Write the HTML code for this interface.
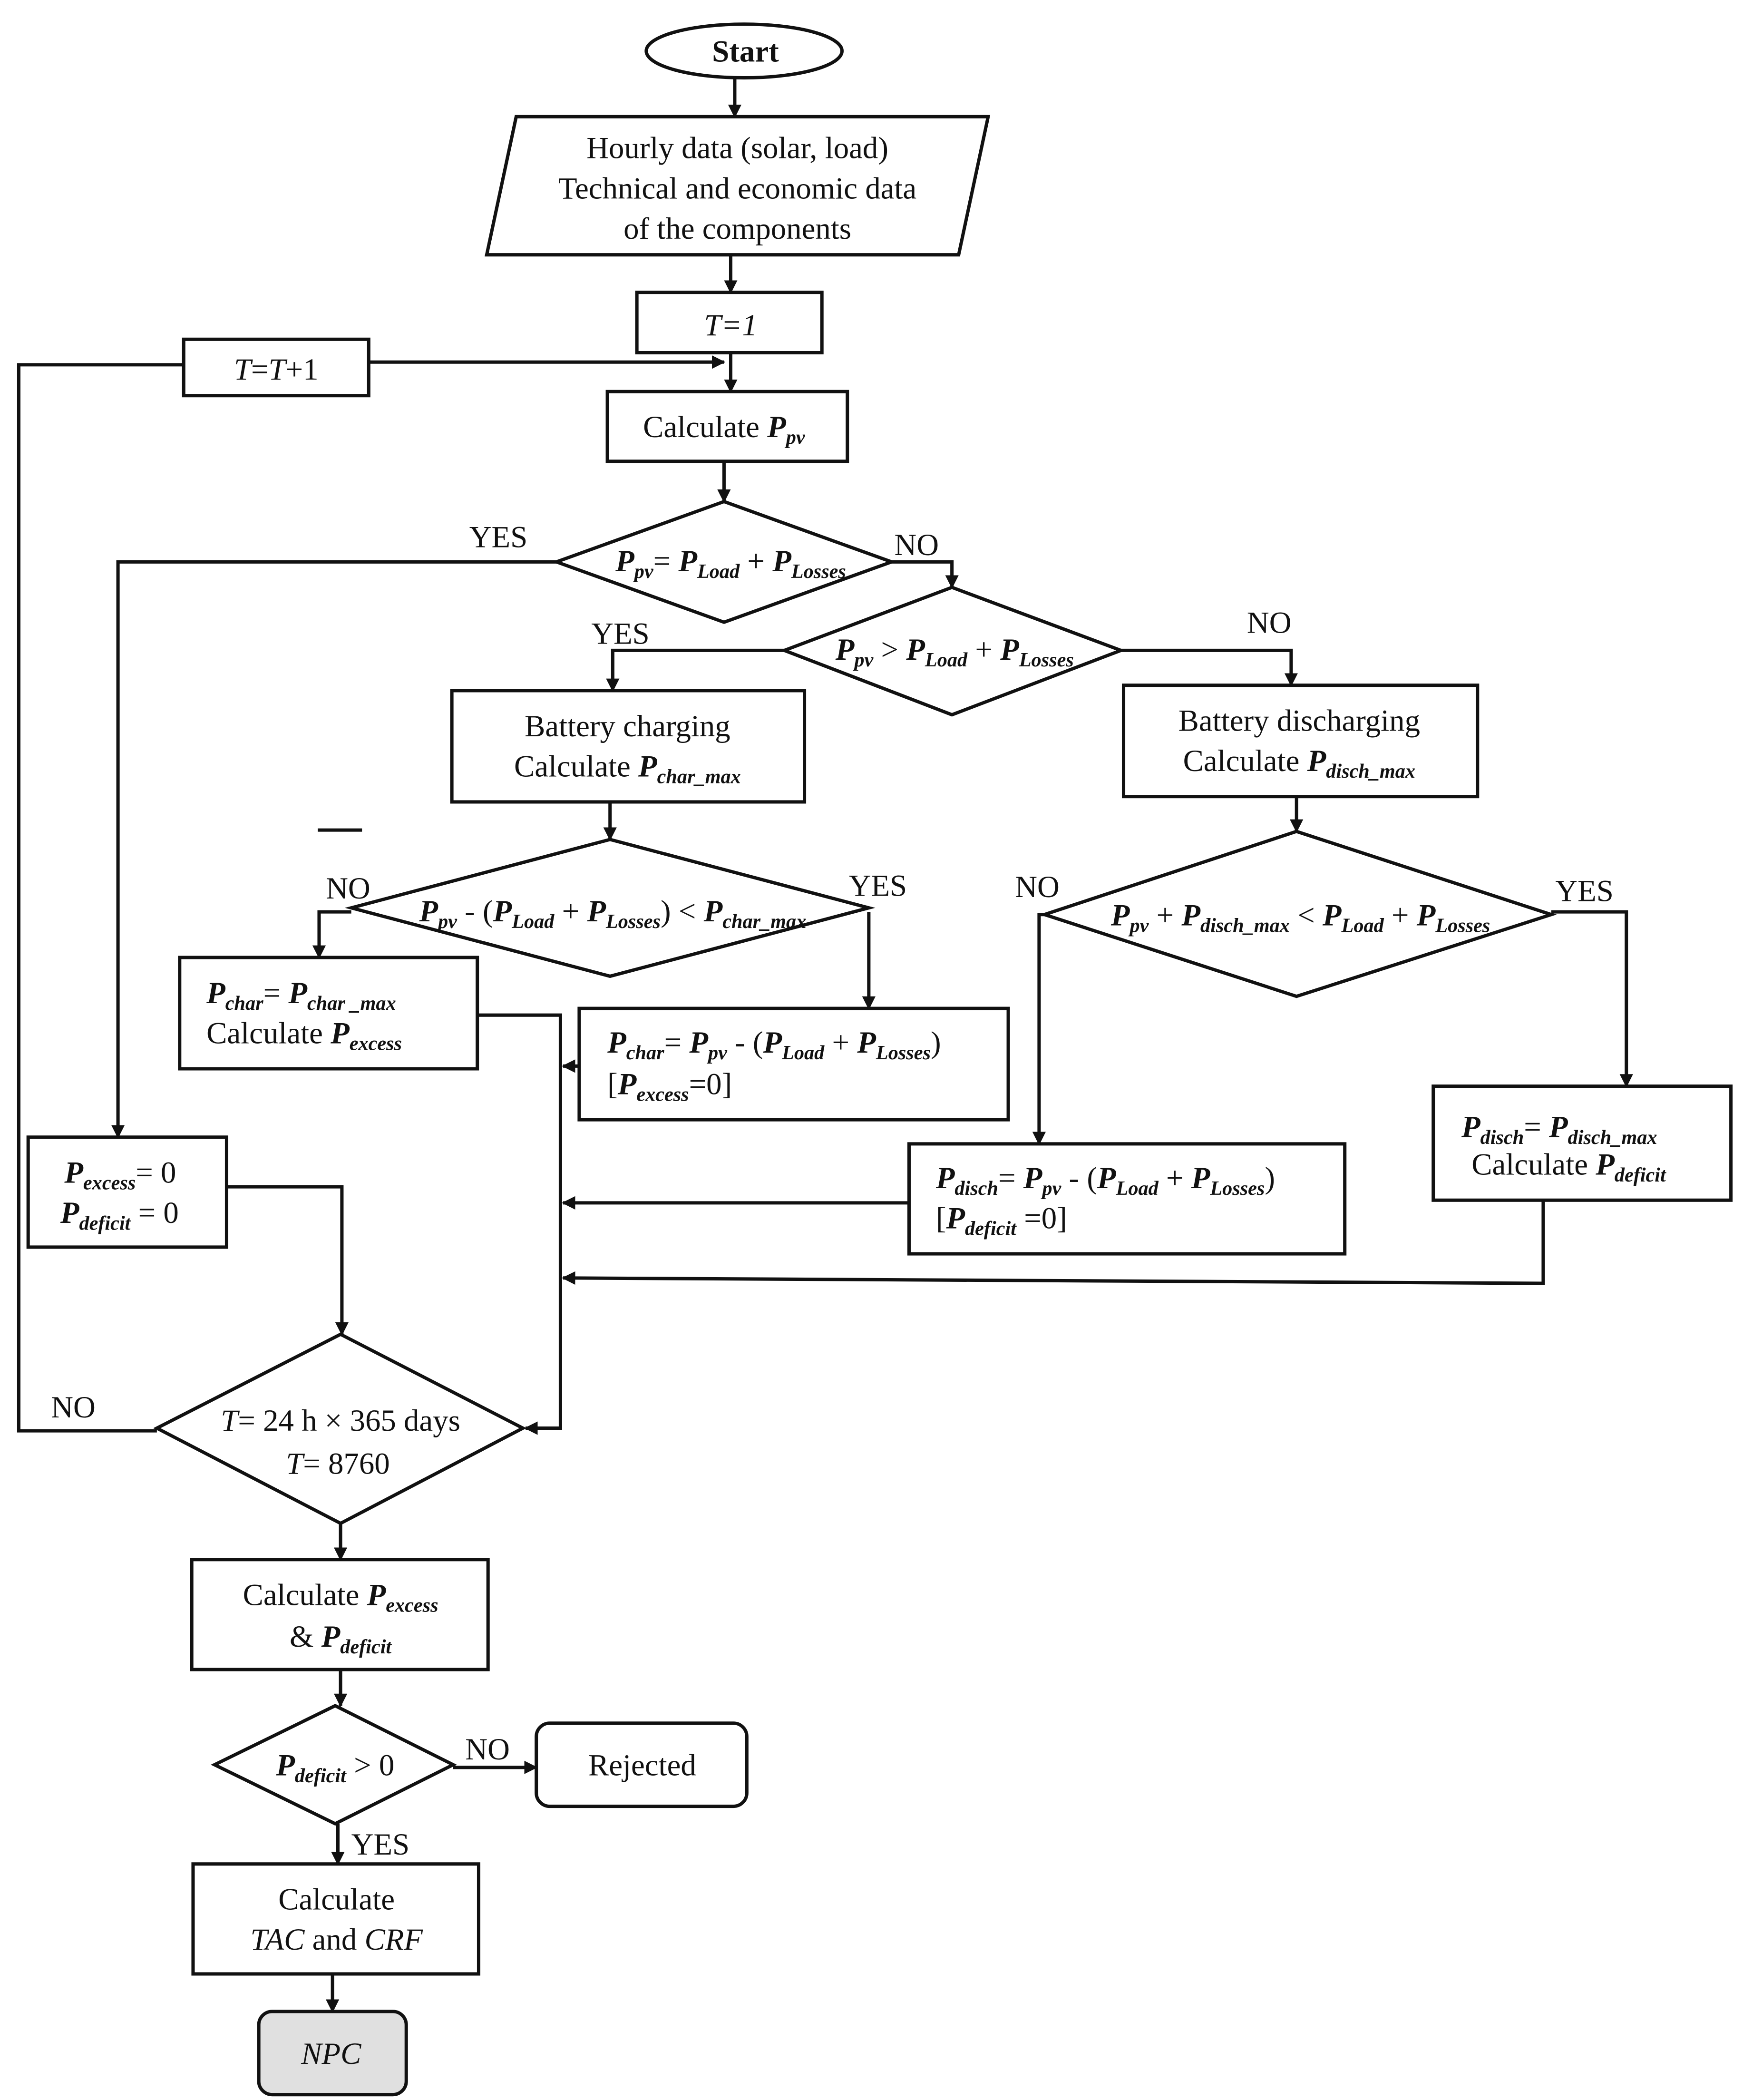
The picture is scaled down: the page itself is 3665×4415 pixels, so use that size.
<!DOCTYPE html>
<html><head><meta charset="utf-8"><style>
html,body{margin:0;padding:0;background:#fff;}
svg{display:block;}
text{font-family:"Liberation Serif",serif;font-size:23px;fill:#111;}
.b{font-weight:bold;font-style:italic;}
.s{font-weight:bold;font-style:italic;font-size:15px;}
.i{font-style:italic;}
</style></head><body>
<svg width="3665" height="4415" viewBox="0 0 1300 1566" xmlns="http://www.w3.org/2000/svg">
<defs><marker id="a" markerWidth="10" markerHeight="10" refX="9" refY="5" orient="auto" markerUnits="userSpaceOnUse"><path d="M0,0 L10,5 L0,10 z" fill="#111"/></marker></defs>
<g fill="none" stroke="#111" stroke-width="2.5">
<ellipse cx="555" cy="38" rx="73" ry="20"/>
<polygon points="385,87 737,87 715,190 363,190"/>
<rect x="475" y="218" width="138" height="45"/>
<rect x="137" y="253" width="138" height="42"/>
<rect x="453" y="292" width="179" height="52"/>
<polygon points="415,419 540,374 665,419 540,464"/>
<polygon points="585,485 710,438 836,485 710,533"/>
<rect x="337" y="515" width="263" height="83"/>
<rect x="838" y="511" width="264" height="83"/>
<polygon points="262,677 455,626 648,677 455,728"/>
<polygon points="779,682 967,620 1157,682 967,743"/>
<rect x="134" y="714" width="222" height="83"/>
<rect x="432" y="752" width="320" height="83"/>
<rect x="678" y="853" width="325" height="82"/>
<rect x="1069" y="810" width="222" height="85"/>
<rect x="21" y="848" width="148" height="82"/>
<polygon points="117,1065 254,995 390,1065 254,1136"/>
<rect x="143" y="1163" width="221" height="82"/>
<polygon points="160,1316 250,1272 338,1316 250,1360"/>
<rect x="400" y="1285" width="157" height="62" rx="10"/>
<rect x="144" y="1390" width="213" height="82"/>
<line x1="237" y1="619" x2="270" y2="619"/>
</g>
<rect x="193" y="1500" width="110" height="62" rx="10" fill="#e0e0e0" stroke="#111" stroke-width="2.5"/>
<g fill="none" stroke="#111" stroke-width="2.5" marker-end="url(#a)">
<line x1="548" y1="58" x2="548" y2="87"/>
<line x1="545" y1="190" x2="545" y2="218"/>
<line x1="545" y1="263" x2="545" y2="292"/>
<polyline points="275,270 540,270"/>
<line x1="540" y1="344" x2="540" y2="374"/>
<polyline points="415,419 88,419 88,848"/>
<polyline points="665,419 710,419 710,438"/>
<polyline points="585,485 457,485 457,515"/>
<polyline points="836,485 963,485 963,511"/>
<line x1="455" y1="598" x2="455" y2="626"/>
<polyline points="262,680 238,680 238,714"/>
<polyline points="648,680 648,752"/>
<line x1="967" y1="594" x2="967" y2="620"/>
<polyline points="779,682 775,682 775,853"/>
<polyline points="1157,680 1213,680 1213,810"/>
<polyline points="356,757 418,757 418,1065 392,1065"/>
<line x1="432" y1="795" x2="420" y2="795"/>
<line x1="678" y1="897" x2="420" y2="897"/>
<polyline points="1151,895 1151,957 420,953"/>
<polyline points="169,885 255,885 255,995"/>
<line x1="254" y1="1136" x2="254" y2="1163"/>
<line x1="254" y1="1245" x2="254" y2="1272"/>
<line x1="338" y1="1318" x2="400" y2="1318"/>
<line x1="252" y1="1360" x2="252" y2="1390"/>
<line x1="248" y1="1472" x2="248" y2="1500"/>
</g>
<polyline points="137,272 14,272 14,1067 117,1067" fill="none" stroke="#111" stroke-width="2.5"/>
<g text-anchor="middle">
<text x="556" y="46" font-weight="bold">Start</text>
<text x="550" y="118">Hourly data (solar, load)</text>
<text x="550" y="148">Technical and economic data</text>
<text x="550" y="178">of the components</text>
<text x="545" y="250" class="i">T=1</text>
<text x="206" y="283"><tspan class="i">T</tspan>=<tspan class="i">T</tspan>+1</text>
<text x="540" y="326">Calculate <tspan class="b">P</tspan><tspan class="s" dy="5">pv</tspan></text>
<text x="545" y="426"><tspan class="b">P</tspan><tspan class="s" dy="5">pv</tspan><tspan dy="-5">= </tspan><tspan class="b">P</tspan><tspan class="s" dy="5">Load</tspan><tspan dy="-5"> + </tspan><tspan class="b">P</tspan><tspan class="s" dy="5">Losses</tspan></text>
<text x="712" y="492"><tspan class="b">P</tspan><tspan class="s" dy="5">pv</tspan><tspan dy="-5"> &gt; </tspan><tspan class="b">P</tspan><tspan class="s" dy="5">Load</tspan><tspan dy="-5"> + </tspan><tspan class="b">P</tspan><tspan class="s" dy="5">Losses</tspan></text>
<text x="468" y="549">Battery charging</text>
<text x="468" y="579">Calculate <tspan class="b">P</tspan><tspan class="s" dy="5">char_max</tspan></text>
<text x="969" y="545">Battery discharging</text>
<text x="969" y="575">Calculate <tspan class="b">P</tspan><tspan class="s" dy="5">disch_max</tspan></text>
<text x="457" y="687"><tspan class="b">P</tspan><tspan class="s" dy="5">pv</tspan><tspan dy="-5"> - (</tspan><tspan class="b">P</tspan><tspan class="s" dy="5">Load</tspan><tspan dy="-5"> + </tspan><tspan class="b">P</tspan><tspan class="s" dy="5">Losses</tspan><tspan dy="-5">) &lt; </tspan><tspan class="b">P</tspan><tspan class="s" dy="5">char_max</tspan></text>
<text x="970" y="690"><tspan class="b">P</tspan><tspan class="s" dy="5">pv</tspan><tspan dy="-5"> + </tspan><tspan class="b">P</tspan><tspan class="s" dy="5">disch_max</tspan><tspan dy="-5"> &lt; </tspan><tspan class="b">P</tspan><tspan class="s" dy="5">Load</tspan><tspan dy="-5"> + </tspan><tspan class="b">P</tspan><tspan class="s" dy="5">Losses</tspan></text>
<text x="1163" y="848"><tspan class="b">P</tspan><tspan class="s" dy="5">disch</tspan><tspan dy="-5">= </tspan><tspan class="b">P</tspan><tspan class="s" dy="5">disch_max</tspan></text>
<text x="1170" y="876">Calculate <tspan class="b">P</tspan><tspan class="s" dy="5">deficit</tspan></text>
<text x="254" y="1067"><tspan class="i">T</tspan>= 24 h × 365 days</text>
<text x="252" y="1099"><tspan class="i">T</tspan>= 8760</text>
<text x="254" y="1197">Calculate <tspan class="b">P</tspan><tspan class="s" dy="5">excess</tspan></text>
<text x="254" y="1228">&amp; <tspan class="b">P</tspan><tspan class="s" dy="5">deficit</tspan></text>
<text x="250" y="1324"><tspan class="b">P</tspan><tspan class="s" dy="5">deficit</tspan><tspan dy="-5"> &gt; 0</tspan></text>
<text x="479" y="1324">Rejected</text>
<text x="251" y="1424">Calculate</text>
<text x="251" y="1454"><tspan class="i">TAC</tspan> and <tspan class="i">CRF</tspan></text>
<text x="247" y="1539" class="i">NPC</text>
</g>
<text x="154" y="748"><tspan class="b">P</tspan><tspan class="s" dy="5">char</tspan><tspan dy="-5">= </tspan><tspan class="b">P</tspan><tspan class="s" dy="5">char _max</tspan></text>
<text x="154" y="778">Calculate <tspan class="b">P</tspan><tspan class="s" dy="5">excess</tspan></text>
<text x="453" y="785"><tspan class="b">P</tspan><tspan class="s" dy="5">char</tspan><tspan dy="-5">= </tspan><tspan class="b">P</tspan><tspan class="s" dy="5">pv</tspan><tspan dy="-5"> - (</tspan><tspan class="b">P</tspan><tspan class="s" dy="5">Load</tspan><tspan dy="-5"> + </tspan><tspan class="b">P</tspan><tspan class="s" dy="5">Losses</tspan><tspan dy="-5">)</tspan></text>
<text x="453" y="816">[<tspan class="b">P</tspan><tspan class="s" dy="5">excess</tspan><tspan dy="-5">=0]</tspan></text>
<text x="698" y="886"><tspan class="b">P</tspan><tspan class="s" dy="5">disch</tspan><tspan dy="-5">= </tspan><tspan class="b">P</tspan><tspan class="s" dy="5">pv</tspan><tspan dy="-5"> - (</tspan><tspan class="b">P</tspan><tspan class="s" dy="5">Load</tspan><tspan dy="-5"> + </tspan><tspan class="b">P</tspan><tspan class="s" dy="5">Losses</tspan><tspan dy="-5">)</tspan></text>
<text x="698" y="916">[<tspan class="b">P</tspan><tspan class="s" dy="5">deficit</tspan><tspan dy="-5"> =0]</tspan></text>
<text x="48" y="882"><tspan class="b">P</tspan><tspan class="s" dy="5">excess</tspan><tspan dy="-5">= 0</tspan></text>
<text x="45" y="912"><tspan class="b">P</tspan><tspan class="s" dy="5">deficit</tspan><tspan dy="-5"> = 0</tspan></text>
<text x="350" y="408">YES</text>
<text x="667" y="414">NO</text>
<text x="441" y="480">YES</text>
<text x="930" y="472">NO</text>
<text x="243" y="670">NO</text>
<text x="633" y="668">YES</text>
<text x="757" y="669">NO</text>
<text x="1160" y="672">YES</text>
<text x="38" y="1057">NO</text>
<text x="347" y="1312">NO</text>
<text x="262" y="1383">YES</text>
</svg>
</body></html>
